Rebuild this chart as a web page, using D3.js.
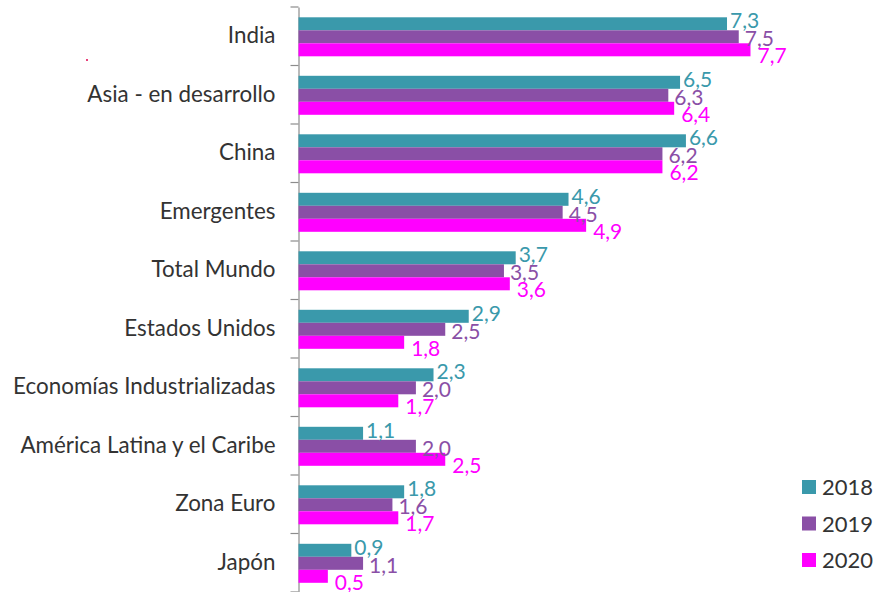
<!DOCTYPE html>
<html>
<head>
<meta charset="utf-8">
<script src="https://cdn.jsdelivr.net/npm/d3@7"></script>
<style>
  body { margin: 0; background: #fff; }
  svg { display: block; }
</style>
</head>
<body>
<div id="chart-div"></div>
<script>
// chart data
const categories = ['India', 'Asia - en desarrollo', 'China', 'Emergentes', 'Total Mundo',
  'Estados Unidos', 'Economías Industrializadas', 'América Latina y el Caribe', 'Zona Euro', 'Japón'];
const years = ['2018', '2019', '2020'];
const values2018 = [7.3, 6.5, 6.6, 4.6, 3.7, 2.9, 2.3, 1.1, 1.8, 0.9];
const values2019 = [7.5, 6.3, 6.2, 4.5, 3.5, 2.5, 2.0, 2.0, 1.6, 1.1];
const values2020 = [7.7, 6.4, 6.2, 4.9, 3.6, 1.8, 1.7, 2.5, 1.7, 0.5];

const WIDTH = 877;
const HEIGHT = 592;
const FONT = 'Lato, "Open Sans", sans-serif';
const colors = ['#3a99ab', '#8a4fa6', '#ff00ff'];
// excel nudges its labels a bit differently per series
const labelDx = [3, 6, 7];
const labelDy = [-3, 2, 6];

const series = [values2018, values2019, values2020];
const rows = categories.map((c, i) => ({
  cat: c,
  vals: series.map((s, j) => ({ year: years[j], value: s[i], k: j }))
}));

const svg = d3.select('#chart-div')
  .append('svg')
  .attr('width', WIDTH)
  .attr('height', HEIGHT);

const xScale = d3.scaleLinear()
  .domain([0, 9])
  .range([298.5, 298.5 + 9 * 58.7]);

const yScale = d3.scaleBand()
  .domain(categories)
  .range([7, 592])
  .padding(0);

const yInner = d3.scaleBand()
  .domain(years)
  .range([10.3, 49.3])
  .padding(0);

// category axis
const yAxis = svg.append('g')
  .attr('transform', `translate(${xScale(0)},0)`)
  .call(d3.axisLeft(yScale).tickSize(0).tickPadding(23));
yAxis.select('.domain').attr('stroke', '#8c8c8c').attr('stroke-width', 1.2);
yAxis.selectAll('text')
  .attr('font-family', FONT)
  .attr('font-size', 22.4)
  .attr('fill', '#333');

// tick marks sit on the band boundaries
svg.append('g')
  .selectAll('line')
  .data(categories.map(c => yScale(c)).concat([592]))
  .join('line')
  .attr('x1', xScale(0) - 8)
  .attr('x2', xScale(0))
  .attr('y1', d => d)
  .attr('y2', d => d)
  .attr('stroke', '#8c8c8c')
  .attr('stroke-width', 1.2);

// bars
const groups = svg.append('g')
  .selectAll('g')
  .data(rows)
  .join('g')
  .attr('transform', d => `translate(0,${yScale(d.cat)})`);

groups.selectAll('rect')
  .data(d => d.vals)
  .join('rect')
  .attr('x', xScale(0))
  .attr('y', d => yInner(d.year))
  .attr('width', d => xScale(d.value) - xScale(0))
  .attr('height', yInner.bandwidth())
  .attr('fill', d => colors[d.k]);

groups.selectAll('text')
  .data(d => d.vals)
  .join('text')
  .attr('x', d => xScale(d.value) + labelDx[d.k])
  .attr('y', d => yInner(d.year) + yInner.bandwidth() / 2 + labelDy[d.k] + 7.5)
  .attr('font-family', FONT)
  .attr('font-size', 21)
  .attr('fill', d => colors[d.k])
  .text(d => d3.format('.1f')(d.value).replace('.', ','));

// legend
const legend = svg.append('g')
  .selectAll('g')
  .data(years)
  .join('g')
  .attr('transform', (d, i) => `translate(802,${487 + i * 36.5})`);
legend.append('rect')
  .attr('x', 0)
  .attr('y', -7)
  .attr('width', 14)
  .attr('height', 14)
  .attr('fill', (d, i) => colors[i]);
legend.append('text')
  .attr('x', 20)
  .attr('y', 8)
  .attr('font-family', FONT)
  .attr('font-size', 22)
  .attr('fill', '#333')
  .text(d => d);

// stray dot that is in the original picture
svg.append('rect')
  .attr('x', 86).attr('y', 59).attr('width', 2).attr('height', 2)
  .attr('fill', '#e8407a');
</script>
</body>
</html>
